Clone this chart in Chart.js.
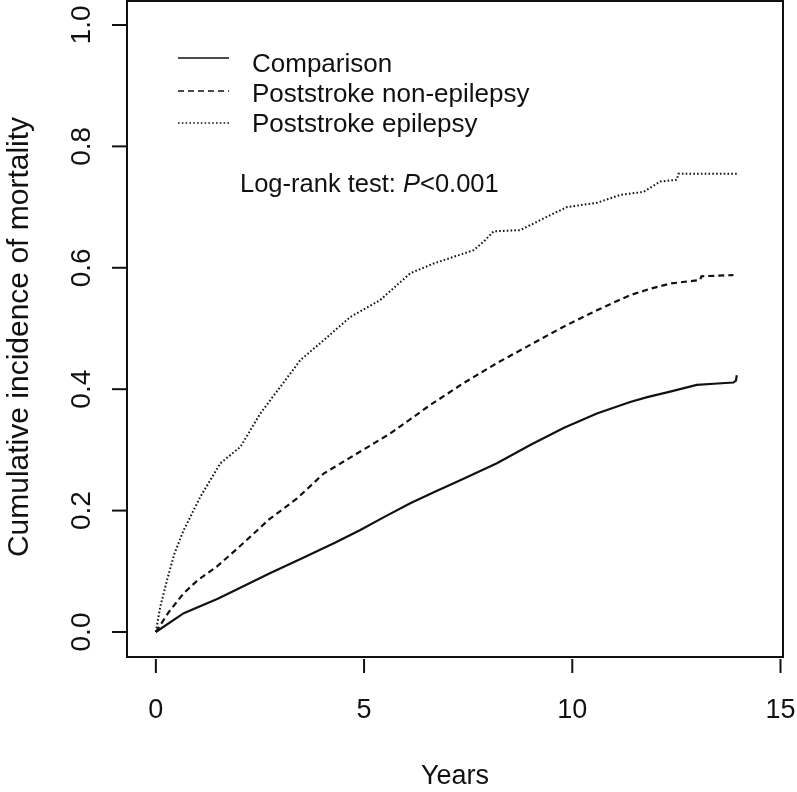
<!DOCTYPE html>
<html lang="en">
  <head>
    <meta charset="utf-8">
    <title>Cumulative incidence of mortality</title>
    <style>
      html, body {
        margin: 0;
        padding: 0;
        background: #fff;
      }
      .chart-box {
        width: 797px;
        height: 792px;
      }
    </style>
    <script src="https://cdn.jsdelivr.net/npm/chart.js@4.4.4/dist/chart.umd.min.js"></script>
  </head>
  <body>
    <div class="chart-box">
      <canvas id="km-plot" width="797" height="792"></canvas>
    </div>
    <script>
      // values
      const seriesNames = ['Comparison', 'Poststroke non-epilepsy', 'Poststroke epilepsy'];

      const comparisonYears = [0, 0.67, 1.5, 2.75, 3.5, 4.3, 4.91, 5.5, 6.11, 6.7, 7.31, 8.19, 8.99, 9.79, 10.59, 11.39, 11.8, 12.35, 12.99, 13.4, 13.87, 13.93, 13.95];
      const comparisonRisk = [0, 0.031, 0.055, 0.097, 0.121, 0.147, 0.168, 0.19, 0.212, 0.231, 0.25, 0.278, 0.308, 0.336, 0.36, 0.379, 0.387, 0.396, 0.407, 0.409, 0.411, 0.414, 0.423];

      const nonEpilepsyYears = [0, 0.3, 0.67, 1.0, 1.47, 1.9, 2.27, 2.71, 3.39, 4.03, 4.83, 5.63, 6.59, 7.39, 8.19, 8.99, 9.79, 10.59, 11.39, 11.9, 12.35, 13.07, 13.1, 13.87];
      const nonEpilepsyRisk = [0, 0.032, 0.064, 0.085, 0.108, 0.134, 0.157, 0.185, 0.22, 0.261, 0.294, 0.327, 0.374, 0.41, 0.443, 0.473, 0.503, 0.53, 0.555, 0.566, 0.574, 0.58, 0.586, 0.588];

      const epilepsyYears = [0, 0.1, 0.27, 0.45, 0.67, 1.07, 1.55, 2.03, 2.51, 2.99, 3.47, 3.95, 4.67, 5.39, 6.11, 6.67, 7.63, 7.9, 8.11, 8.75, 9.39, 9.87, 10.59, 11.15, 11.71, 12.11, 12.51, 12.55, 13.95];
      const epilepsyRisk = [0, 0.04, 0.086, 0.13, 0.168, 0.223, 0.278, 0.305, 0.36, 0.404, 0.448, 0.476, 0.519, 0.547, 0.591, 0.607, 0.629, 0.645, 0.66, 0.662, 0.684, 0.7, 0.707, 0.72, 0.725, 0.742, 0.745, 0.755, 0.755];

      const xTicks = [0, 5, 10, 15];
      const yTicks = [0, 0.2, 0.4, 0.6, 0.8, 1.0];
      const yTickLabels = ['0.0', '0.2', '0.4', '0.6', '0.8', '1.0'];

      const lineDashes = [[], [6, 4], [1.6, 2.2]];
      const fontFamily = '"Liberation Sans", Arial, Helvetica, sans-serif';

      function toPoints(xs, ys) {
        return xs.map((x, i) => ({x: x, y: ys[i]}));
      }

      // R-style box, axes, legend and annotation
      const baseGraphics = {
        id: 'baseGraphics',
        afterDraw(chart) {
          const ctx = chart.ctx;
          const area = chart.chartArea;
          const xs = chart.scales.x;
          const ys = chart.scales.y;
          ctx.save();
          ctx.strokeStyle = '#111';
          ctx.fillStyle = '#111';
          ctx.lineWidth = 2;
          ctx.setLineDash([]);
          ctx.strokeRect(area.left, area.top, area.right - area.left, area.bottom - area.top);

          // x axis
          ctx.font = '27px ' + fontFamily;
          ctx.textAlign = 'center';
          ctx.textBaseline = 'alphabetic';
          xTicks.forEach(t => {
            const px = xs.getPixelForValue(t);
            ctx.beginPath();
            ctx.moveTo(px, area.bottom + 2);
            ctx.lineTo(px, area.bottom + 16);
            ctx.stroke();
            ctx.fillText(String(t), px, 718);
          });
          ctx.fillText('Years', (area.left + area.right) / 2, 784);

          // y axis
          ctx.font = '28px ' + fontFamily;
          yTicks.forEach((t, i) => {
            const py = ys.getPixelForValue(t);
            ctx.beginPath();
            ctx.moveTo(area.left - 15, py);
            ctx.lineTo(area.left, py);
            ctx.stroke();
            ctx.save();
            ctx.translate(90, py);
            ctx.rotate(-Math.PI / 2);
            ctx.fillText(yTickLabels[i], 0, 0);
            ctx.restore();
          });
          ctx.font = '30px ' + fontFamily;
          ctx.save();
          ctx.translate(28, 337);
          ctx.rotate(-Math.PI / 2);
          ctx.fillText('Cumulative incidence of mortality', 0, 0);
          ctx.restore();

          // legend
          const legendLineY = [58, 91, 123];
          const legendTextY = [72, 102, 132];
          ctx.font = '26px ' + fontFamily;
          ctx.textAlign = 'left';
          seriesNames.forEach((name, i) => {
            ctx.save();
            ctx.lineWidth = 1.6;
            ctx.setLineDash(lineDashes[i]);
            ctx.beginPath();
            ctx.moveTo(178, legendLineY[i]);
            ctx.lineTo(229, legendLineY[i]);
            ctx.stroke();
            ctx.restore();
            ctx.fillText(name, 252, legendTextY[i]);
          });

          // log-rank annotation
          let tx = 240;
          const part1 = 'Log-rank test: ';
          ctx.font = '25.5px ' + fontFamily;
          ctx.fillText(part1, tx, 192);
          tx += ctx.measureText(part1).width;
          ctx.font = 'italic 25.5px ' + fontFamily;
          ctx.fillText('P', tx, 192);
          tx += ctx.measureText('P').width;
          ctx.font = '25.5px ' + fontFamily;
          ctx.fillText('<0.001', tx, 192);
          ctx.restore();
        }
      };

      document.addEventListener('DOMContentLoaded', function() {
        const ctx = document.getElementById('km-plot');
        const seriesData = [
          toPoints(comparisonYears, comparisonRisk),
          toPoints(nonEpilepsyYears, nonEpilepsyRisk),
          toPoints(epilepsyYears, epilepsyRisk),
        ];
        new Chart(ctx, {
          type: 'scatter',
          data: {
            datasets: seriesNames.map((name, i) => ({
              label: name,
              data: seriesData[i],
              showLine: true,
              borderColor: '#111',
              borderWidth: i === 2 ? 2 : 2.2,
              borderDash: lineDashes[i],
              pointRadius: 0,
              tension: 0,
              fill: false,
            })),
          },
          options: {
            responsive: false,
            animation: false,
            layout: {
              padding: {left: 127, right: 14, top: 1, bottom: 135},
            },
            scales: {
              x: {type: 'linear', display: false, min: -0.693, max: 15.06},
              y: {type: 'linear', display: false, min: -0.0412, max: 1.0395},
            },
            plugins: {
              legend: {display: false},
              tooltip: {enabled: false},
            },
          },
          plugins: [baseGraphics],
        });
      });
    </script>
  </body>
</html>
